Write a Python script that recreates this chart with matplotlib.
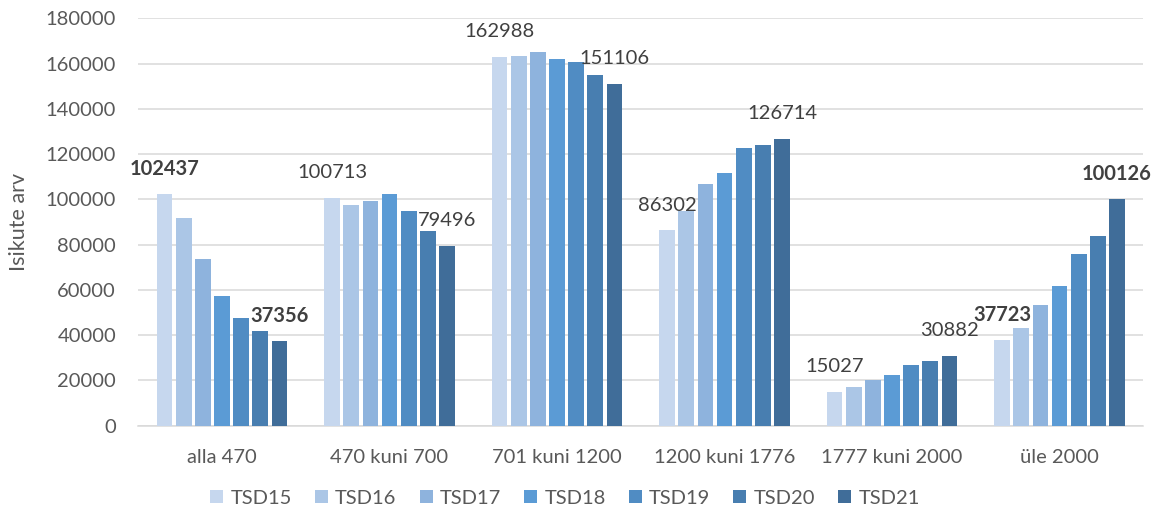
import matplotlib
matplotlib.use("Agg")
import matplotlib.pyplot as plt
from matplotlib.patches import Patch
import numpy as np

plt.rcParams['font.family'] = ['Lato', 'DejaVu Sans']

categories = ["alla 470", "470 kuni 700", "701 kuni 1200",
              "1200 kuni 1776", "1777 kuni 2000", "üle 2000"]
series_names = ["TSD15", "TSD16", "TSD17", "TSD18", "TSD19", "TSD20", "TSD21"]

tsd15 = [102437, 100713, 162988, 86302, 15027, 37723]
tsd16 = [91900, 97500, 163500, 94800, 17200, 43200]
tsd17 = [73500, 99300, 165100, 106600, 20000, 53200]
tsd18 = [57200, 102400, 162200, 111700, 22500, 61800]
tsd19 = [47500, 95000, 160700, 122600, 26600, 75900]
tsd20 = [41600, 86000, 154900, 124100, 28400, 83700]
tsd21 = [37356, 79496, 151106, 126714, 30882, 100126]
series_values = [tsd15, tsd16, tsd17, tsd18, tsd19, tsd20, tsd21]

colors = ['#C6D7EE', '#ABC6E6', '#8EB3DD', '#5B9BD5',
          '#508CC3', '#487EB0', '#406D99']

# categories whose labels are shown in bold
bold_categories = {0, 5}

fig = plt.figure(figsize=(11.64, 5.21), dpi=100)
ax = fig.add_axes([0.1188, 0.183, 0.8634, 0.782])

n = len(series_names)
slot = 0.8 / n
bar_w = 0.094
x = np.arange(len(categories))

for j, (vals, col) in enumerate(zip(series_values, colors)):
    pos = x + (j - (n - 1) / 2) * slot
    ax.bar(pos, vals, width=bar_w, color=col, zorder=3)
    if j in (0, n - 1):
        for i, (px, v) in enumerate(zip(pos, vals)):
            ax.annotate(f"{v}", xy=(px, v), xytext=(0, 18),
                        textcoords='offset points', ha='center', va='center',
                        fontsize=14.5, color='#404040',
                        fontweight='bold' if i in bold_categories else 'normal',
                        zorder=5)

ax.set_xlim(-0.5, len(categories) - 0.5)
ax.set_ylim(0, 180000)
ax.set_yticks(np.arange(0, 180001, 20000))
ax.set_xticks(x)
ax.set_xticklabels(categories)
ax.tick_params(axis='both', length=0, labelsize=14.5, colors='#595959')
ax.tick_params(axis='y', pad=16)
ax.tick_params(axis='x', pad=17)
ax.yaxis.grid(True, color='#D9D9D9', linewidth=1.1, zorder=0)
ax.set_axisbelow(True)
for s in ('top', 'right', 'left'):
    ax.spines[s].set_visible(False)
ax.spines['bottom'].set_color('#D9D9D9')
ax.spines['bottom'].set_linewidth(1.1)

ax.set_ylabel("Isikute arv", fontsize=15.5, color='#595959', labelpad=12)

handles = [Patch(facecolor=c, edgecolor='none') for c in colors]
fig.legend(handles, series_names, loc='center', ncol=n,
           bbox_to_anchor=(565 / 1164, 1 - 498 / 521), frameon=False,
           fontsize=14.5, labelcolor='#595959', handlelength=0.65,
           handleheight=0.65, handletextpad=0.35, columnspacing=1.15)

fig.savefig("out.png", dpi=100)
